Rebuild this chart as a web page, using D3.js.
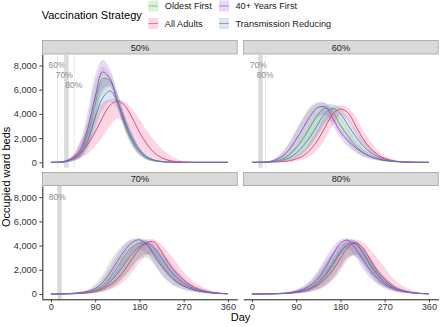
<!DOCTYPE html>
<html>
<head>
<meta charset="utf-8">
<script src="https://cdn.jsdelivr.net/npm/d3@7"></script>
<style>
  body { margin: 0; background: #fff; }
  text { font-family: "Liberation Sans", Arial, sans-serif; }
</style>
</head>
<body>
<div id="chart"></div>
<script>
// days sampled for every curve
var days = [0, 15, 30, 45, 60, 75, 90, 105, 120, 135, 150, 165, 180, 195, 210, 225, 240, 255, 270, 285, 300, 330, 360];

// strategy order: Oldest First, All Adults, 40+ Years First, Transmission Reducing
var strategies = ["Oldest First", "All Adults", "40+ Years First", "Transmission Reducing"];
var colors = ["#55b355", "#e8366e", "#9d3ddc", "#5a7db5"];
var panels = ["50%", "60%", "70%", "80%"];

// 50% coverage
var med50 = [
  [0, 10, 60, 300, 800, 2300, 4800, 6900, 6750, 5100, 3100, 1700, 800, 330, 120, 40, 10, 0, 0, 0, 0, 0, 0],
  [0, 10, 60, 350, 800, 1500, 2500, 3700, 4700, 5050, 4700, 3700, 2500, 1500, 800, 380, 160, 60, 20, 5, 0, 0, 0],
  [0, 20, 100, 400, 1000, 2800, 5400, 7450, 6900, 5100, 3300, 1900, 950, 450, 180, 70, 25, 5, 0, 0, 0, 0, 0],
  [0, 10, 50, 250, 650, 1800, 3700, 5300, 5900, 5000, 3500, 2100, 1100, 450, 180, 70, 25, 8, 0, 0, 0, 0, 0]
];
var lo50 = [
  [0, 3, 25, 120, 400, 1300, 3300, 5700, 6200, 4600, 2700, 1350, 600, 220, 70, 20, 5, 0, 0, 0, 0, 0, 0],
  [0, 3, 20, 80, 350, 700, 1300, 2100, 3000, 3600, 3300, 2300, 1300, 650, 300, 120, 50, 15, 5, 0, 0, 0, 0],
  [0, 5, 40, 150, 450, 1500, 3700, 6000, 6300, 4600, 2700, 1400, 600, 220, 70, 20, 5, 0, 0, 0, 0, 0, 0],
  [0, 3, 20, 100, 350, 1100, 2700, 4300, 5000, 4400, 2900, 1600, 750, 300, 110, 40, 10, 0, 0, 0, 0, 0, 0]
];
var hi50 = [
  [0, 25, 150, 500, 1400, 3600, 6600, 7900, 7300, 5700, 3600, 2100, 1050, 450, 170, 60, 20, 5, 0, 0, 0, 0, 0],
  [0, 30, 180, 500, 1700, 2800, 4000, 4900, 5200, 5200, 5000, 4400, 3600, 2600, 1800, 1150, 650, 300, 120, 50, 15, 0, 0],
  [0, 40, 200, 650, 1800, 4200, 7200, 8450, 7700, 5800, 3800, 2300, 1200, 550, 230, 90, 30, 10, 0, 0, 0, 0, 0],
  [0, 25, 130, 450, 1300, 3200, 5600, 6800, 6800, 5700, 4000, 2500, 1350, 650, 280, 110, 40, 15, 5, 0, 0, 0, 0]
];

// 60% coverage
var med60 = [
  [0, 5, 20, 80, 250, 600, 1200, 2000, 3000, 4000, 4500, 4100, 3100, 2200, 1400, 850, 500, 280, 150, 80, 35, 8, 0],
  [0, 2, 8, 25, 50, 120, 280, 550, 1100, 1900, 3000, 4000, 4400, 4100, 3100, 2000, 1200, 650, 320, 150, 60, 10, 0],
  [0, 10, 30, 150, 450, 1000, 1900, 2900, 3900, 4550, 4550, 3600, 2500, 1800, 1250, 800, 500, 300, 160, 90, 45, 10, 0],
  [0, 3, 15, 50, 150, 350, 750, 1400, 2200, 3200, 4100, 4450, 4000, 3100, 2200, 1400, 850, 480, 250, 130, 55, 10, 0]
];
var lo60 = [
  [0, 0, 5, 20, 80, 200, 450, 850, 1500, 2400, 3300, 3400, 2600, 1600, 900, 500, 260, 130, 60, 25, 10, 0, 0],
  [0, 0, 3, 10, 20, 50, 120, 260, 550, 1100, 2000, 3100, 3900, 3500, 2500, 1500, 850, 420, 200, 90, 35, 5, 0],
  [0, 3, 10, 60, 200, 500, 1100, 2000, 3000, 3800, 3900, 3000, 2000, 1300, 850, 520, 320, 180, 90, 45, 20, 5, 0],
  [0, 1, 5, 20, 60, 150, 350, 750, 1400, 2300, 3300, 3900, 3400, 2500, 1700, 1000, 600, 320, 160, 80, 30, 5, 0]
];
var hi60 = [
  [0, 15, 60, 250, 700, 1500, 2600, 3800, 4700, 5000, 4900, 4500, 3700, 2800, 1900, 1200, 750, 420, 230, 120, 60, 12, 0],
  [0, 5, 20, 60, 130, 280, 550, 1000, 1800, 2800, 3900, 4600, 4700, 4500, 3800, 2700, 1800, 1000, 550, 280, 120, 25, 0],
  [0, 20, 70, 300, 800, 1600, 2700, 3700, 4500, 4900, 4900, 4200, 3200, 2400, 1700, 1100, 700, 420, 230, 120, 60, 15, 0],
  [0, 8, 35, 120, 330, 700, 1300, 2200, 3200, 4100, 4700, 4800, 4500, 3700, 2800, 1900, 1200, 700, 380, 200, 90, 20, 0]
];

// 70% coverage
var med70 = [
  [0, 5, 15, 40, 80, 160, 330, 700, 1350, 2200, 3100, 3850, 4200, 4050, 3400, 2500, 1700, 1100, 700, 420, 250, 70, 15],
  [0, 3, 10, 25, 50, 100, 200, 400, 750, 1250, 2000, 2900, 3700, 4250, 4300, 3500, 2500, 1750, 1150, 700, 400, 120, 25],
  [0, 10, 30, 60, 120, 220, 450, 950, 1750, 2700, 3600, 4250, 4480, 4100, 3200, 2300, 1550, 1000, 650, 420, 260, 90, 20],
  [0, 4, 12, 30, 60, 120, 250, 500, 1000, 1650, 2500, 3300, 3900, 4200, 3800, 3000, 2100, 1400, 900, 550, 320, 100, 20]
];
var lo70 = [
  [0, 1, 4, 10, 20, 45, 100, 220, 450, 850, 1450, 2200, 2900, 3000, 2400, 1600, 1000, 600, 350, 200, 110, 30, 5],
  [0, 1, 4, 10, 20, 40, 80, 170, 350, 650, 1100, 1800, 2600, 3200, 3300, 2600, 1800, 1150, 700, 420, 230, 60, 10],
  [0, 4, 15, 30, 60, 110, 230, 500, 1000, 1700, 2600, 3400, 3700, 3300, 2500, 1600, 1000, 600, 380, 230, 130, 40, 8],
  [0, 1, 5, 12, 25, 50, 110, 230, 500, 900, 1500, 2300, 3000, 3300, 2900, 2200, 1500, 950, 580, 340, 190, 55, 10]
];
var hi70 = [
  [0, 15, 40, 100, 200, 400, 850, 1600, 2700, 3600, 4200, 4500, 4500, 4300, 3800, 3000, 2200, 1500, 1000, 620, 380, 120, 30],
  [0, 6, 18, 45, 90, 180, 360, 700, 1250, 2000, 2900, 3700, 4300, 4500, 4500, 4100, 3400, 2600, 1800, 1200, 750, 250, 60],
  [0, 15, 45, 90, 180, 330, 650, 1300, 2300, 3300, 4100, 4550, 4600, 4450, 4000, 3300, 2500, 1800, 1200, 800, 500, 180, 45],
  [0, 8, 25, 55, 110, 220, 450, 900, 1600, 2500, 3400, 4000, 4300, 4400, 4200, 3600, 2800, 2000, 1350, 850, 520, 170, 40]
];

// 80% coverage
var med80 = [
  [0, 3, 8, 20, 40, 80, 160, 300, 560, 1000, 1700, 2600, 3500, 4100, 4150, 3400, 2400, 1550, 950, 550, 300, 80, 15],
  [0, 2, 6, 15, 30, 60, 120, 230, 420, 750, 1250, 2000, 2950, 3800, 4250, 3850, 2900, 1900, 1200, 700, 380, 100, 20],
  [0, 5, 15, 30, 60, 110, 220, 400, 750, 1300, 2200, 3300, 4200, 4450, 3800, 2900, 2000, 1300, 800, 480, 270, 80, 20],
  [0, 3, 7, 18, 35, 70, 140, 270, 500, 900, 1550, 2450, 3400, 4050, 4200, 3500, 2500, 1650, 1000, 580, 320, 90, 20]
];
var lo80 = [
  [0, 1, 3, 8, 15, 30, 60, 120, 230, 430, 800, 1400, 2300, 3100, 3200, 2500, 1600, 950, 550, 300, 160, 40, 8],
  [0, 1, 2, 6, 12, 25, 50, 100, 190, 350, 650, 1150, 1900, 2800, 3300, 2900, 2000, 1200, 700, 380, 200, 50, 8],
  [0, 2, 6, 12, 25, 50, 100, 190, 370, 700, 1300, 2200, 3200, 3700, 3100, 2100, 1350, 800, 450, 260, 140, 40, 8],
  [0, 1, 2, 7, 14, 28, 55, 110, 210, 400, 750, 1300, 2200, 3000, 3150, 2500, 1650, 1000, 580, 320, 170, 45, 8]
];
var hi80 = [
  [0, 8, 20, 45, 90, 170, 320, 600, 1050, 1800, 2700, 3500, 4100, 4400, 4300, 3800, 2900, 2000, 1300, 800, 450, 130, 30],
  [0, 5, 14, 30, 60, 110, 210, 400, 720, 1250, 2000, 2900, 3800, 4400, 4500, 4300, 3700, 3000, 2200, 1400, 850, 250, 50],
  [0, 10, 30, 60, 110, 200, 380, 680, 1200, 2000, 3000, 3900, 4500, 4600, 4400, 3800, 3000, 2100, 1400, 850, 500, 150, 35],
  [0, 7, 18, 40, 80, 150, 290, 540, 950, 1650, 2550, 3400, 4100, 4400, 4400, 3900, 3000, 2100, 1400, 860, 480, 140, 35]
];

// grey bands: day each later coverage level was reached
var bandPanel = ["50%", "50%", "50%", "60%", "60%", "70%"];
var bandLabel = ["60%", "70%", "80%", "70%", "80%", "80%"];
var bandStart = [12.5, 27, 46.5, 13, 26.5, 13];
var bandEnd = [14, 36, 48, 22, 27.5, 22];

var yTicks = [0, 2000, 4000, 6000, 8000];
var xTicks = [0, 90, 180, 270, 360];

var medData = [med50, med60, med70, med80];
var loData = [lo50, lo60, lo70, lo80];
var hiData = [hi50, hi60, hi70, hi80];

//Width and height
var w = 440;
var h = 327;

var colX = [42.3, 243.3];
var rowY = [54.3, 186];
var pw = 195.2;
var ph = 113.3;
var stripH = 14;

var svg = d3.select("#chart")
            .append("svg")
            .attr("width", w)
            .attr("height", h);

panels.forEach(function(name, p) {
    var col = p % 2;
    var row = Math.floor(p / 2);
    var x0 = colX[col];
    var y0 = rowY[row];

    var x = d3.scaleLinear().domain([-17.5, 379.5]).range([x0, x0 + pw]);
    var y = d3.scaleLinear().domain([-435, 8920]).range([y0 + ph, y0]);

    var g = svg.append("g");

    // strip
    g.append("rect")
        .attr("x", x0 + 0.3)
        .attr("y", y0 - stripH + 0.3)
        .attr("width", pw - 0.6)
        .attr("height", stripH - 0.6)
        .style("fill", "#d9d9d9")
        .style("stroke", "#8a8a8a")
        .style("stroke-width", 0.6);
    g.append("text")
        .attr("x", x0 + pw / 2)
        .attr("y", y0 - stripH / 2 + 3.3)
        .attr("text-anchor", "middle")
        .style("font-size", "9.2px")
        .style("fill", "#1a1a1a")
        .text(name);

    // coverage bands
    var k = 0;
    bandPanel.forEach(function(bp, i) {
        if (bp != name) return;
        g.append("rect")
            .attr("x", x(bandStart[i]))
            .attr("y", y0)
            .attr("width", Math.max(1, x(bandEnd[i]) - x(bandStart[i])))
            .attr("height", ph)
            .style("fill", "#d6d6d6")
            .style("opacity", (bandEnd[i] - bandStart[i]) > 3 ? 0.9 : 0.6);
        g.append("text")
            .attr("x", x(bandStart[i]))
            .attr("y", y(8050 - k * 850) + 3)
            .attr("text-anchor", "middle")
            .style("font-size", "8.5px")
            .style("fill", "#8c8c8c")
            .text(bandLabel[i]);
        k++;
    });

    var area = d3.area()
        .x(function(d, i) { return x(days[i]); })
        .y0(function(d) { return y(d[0]); })
        .y1(function(d) { return y(d[1]); })
        .curve(d3.curveCatmullRom.alpha(0.5));

    var line = d3.line()
        .x(function(d, i) { return x(days[i]); })
        .y(function(d) { return y(d); })
        .curve(d3.curveCatmullRom.alpha(0.5));

    // ribbons first
    strategies.forEach(function(s, j) {
        var pts = loData[p][j].map(function(v, i) { return [v, hiData[p][j][i]]; });
        g.append("path")
            .attr("d", area(pts))
            .style("fill", colors[j])
            .style("fill-opacity", 0.2)
            .style("stroke", "none");
    });

    strategies.forEach(function(s, j) {
        g.append("path")
            .attr("d", line(medData[p][j]))
            .style("fill", "none")
            .style("stroke", colors[j])
            .style("stroke-width", 0.9);
    });

    // axes
    if (col == 0) {
        var ya = g.append("g")
            .attr("transform", "translate(" + x0 + ",0)")
            .call(d3.axisLeft(y).tickValues(yTicks).tickFormat(d3.format(",")).tickSize(3).tickPadding(2.5).tickSizeOuter(0));
        ya.select(".domain").style("stroke", "#000").style("stroke-width", 0.9);
        ya.selectAll(".tick line").style("stroke", "#333").style("stroke-width", 0.9);
        ya.selectAll("text").style("font-size", "9.2px").style("fill", "#333")
            .style("font-family", "Liberation Sans, Arial, sans-serif");
    }
    if (row == 1) {
        var xa = g.append("g")
            .attr("transform", "translate(0," + (y0 + ph) + ")")
            .call(d3.axisBottom(x).tickValues(xTicks).tickSize(3).tickPadding(1.5).tickSizeOuter(0));
        xa.select(".domain").style("stroke", "#000").style("stroke-width", 0.9);
        xa.selectAll(".tick line").style("stroke", "#333").style("stroke-width", 0.9);
        xa.selectAll("text").style("font-size", "9.2px").style("fill", "#333")
            .style("font-family", "Liberation Sans, Arial, sans-serif");
    }
});

// axis titles
svg.append("text")
    .attr("x", 240.5)
    .attr("y", 321)
    .attr("text-anchor", "middle")
    .style("font-size", "11px")
    .style("fill", "#000")
    .text("Day");

svg.append("text")
    .attr("transform", "translate(9.8,176.8) rotate(-90)")
    .attr("text-anchor", "middle")
    .style("font-size", "11px")
    .style("fill", "#000")
    .text("Occupied ward beds");

// legend
svg.append("text")
    .attr("x", 41.7)
    .attr("y", 18.7)
    .style("font-size", "11px")
    .style("fill", "#000")
    .text("Vaccination Strategy");

var keyX = [148.3, 148.3, 219, 219];
var keyY = [0.5, 18, 0.5, 18];
strategies.forEach(function(s, j) {
    var lg = svg.append("g");
    lg.append("rect")
        .attr("x", keyX[j])
        .attr("y", keyY[j])
        .attr("width", 10)
        .attr("height", 11)
        .style("fill", colors[j])
        .style("fill-opacity", 0.2);
    lg.append("line")
        .attr("x1", keyX[j])
        .attr("x2", keyX[j] + 10)
        .attr("y1", keyY[j] + 5.5)
        .attr("y2", keyY[j] + 5.5)
        .style("stroke", colors[j])
        .style("stroke-opacity", 0.7)
        .style("stroke-width", 0.9);
    lg.append("text")
        .attr("x", keyX[j] + 16.5)
        .attr("y", keyY[j] + 8.8)
        .style("font-size", "9.2px")
        .style("fill", "#1a1a1a")
        .text(s);
});
</script>
</body>
</html>
